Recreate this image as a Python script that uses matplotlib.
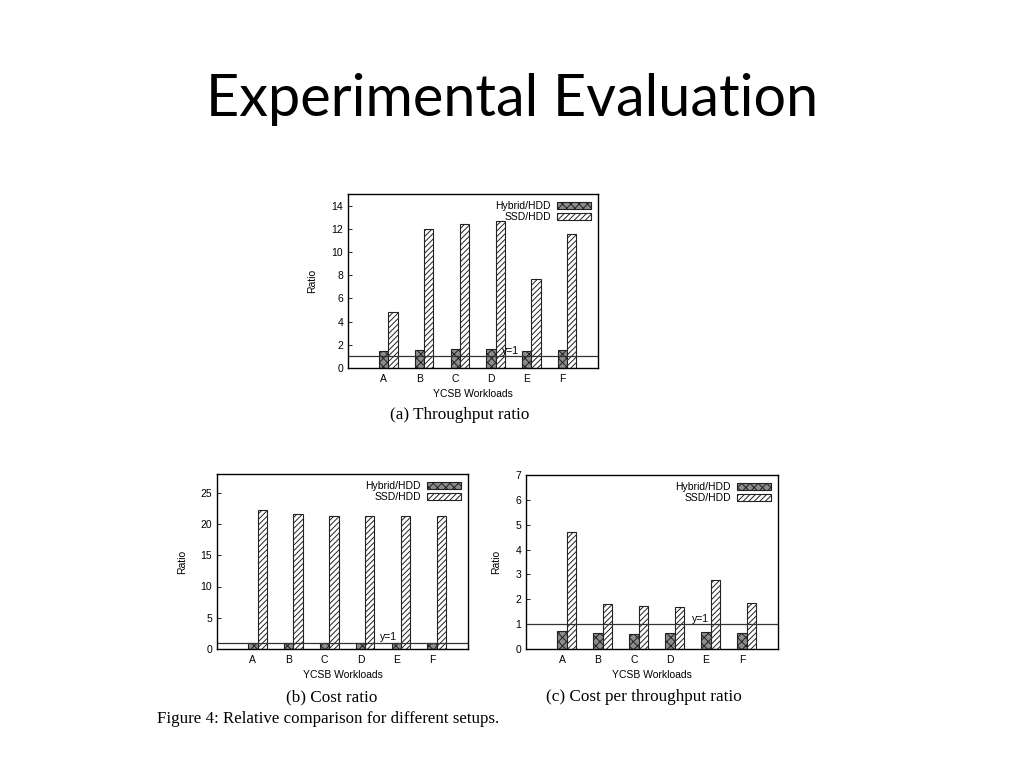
import matplotlib
matplotlib.use("Agg")
import matplotlib.pyplot as plt
import matplotlib.patches as mpatches
import numpy as np

workloads = ["A", "B", "C", "D", "E", "F"]

# (a) throughput ratio
thr_hybrid = [1.50, 1.55, 1.60, 1.60, 1.45, 1.55]
thr_ssd = [4.80, 12.0, 12.4, 12.7, 7.70, 11.55]

# (b) cost ratio
cost_hybrid = [0.97, 0.97, 0.97, 0.97, 0.97, 0.97]
cost_ssd = [22.3, 21.6, 21.35, 21.35, 21.35, 21.35]

# (c) cost per throughput ratio
cpt_hybrid = [0.71, 0.64, 0.62, 0.63, 0.70, 0.66]
cpt_ssd = [4.69, 1.81, 1.73, 1.69, 2.77, 1.87]

plt.rcParams["font.family"] = ["Liberation Sans", "DejaVu Sans"]
plt.rcParams["hatch.linewidth"] = 0.7

W, H = 1024, 768
fig = plt.figure(figsize=(W / 100, H / 100), dpi=100)


def px_axes(left, top, right, bottom):
    return fig.add_axes([left / W, 1 - bottom / H, (right - left) / W, (bottom - top) / H])


def draw_panel(ax, hybrid, ssd, ymax, yticks, label_xy):
    x = np.arange(1, len(workloads) + 1)
    w = 0.26
    ax.bar(x, hybrid, w, facecolor="#8c8c8c", edgecolor="#222222",
           hatch="xxxx", linewidth=0.8)
    ax.bar(x + w, ssd, w, facecolor="white", edgecolor="#222222",
           hatch="//////", linewidth=0.8)
    ax.axhline(1, color="#333333", linewidth=0.9)
    ax.text(label_xy[0], label_xy[1], "y=1", fontsize=7.5)
    ax.set_xlim(0, 7)
    ax.set_ylim(0, ymax)
    ax.set_xticks(x)
    ax.set_xticklabels(workloads)
    ax.set_yticks(yticks)
    ax.tick_params(axis="both", labelsize=7.5, direction="in", length=3, width=0.6)
    ax.tick_params(axis="x", length=0, pad=4)
    for s in ax.spines.values():
        s.set_linewidth(1.0)
    ax.set_xlabel("YCSB Workloads", fontsize=7.5, labelpad=4)
    ax.set_ylabel("Ratio", fontsize=7.5, labelpad=10)
    handles = [
        mpatches.Patch(facecolor="#8c8c8c", edgecolor="#222222", hatch="xxxx", linewidth=0.8),
        mpatches.Patch(facecolor="white", edgecolor="#222222", hatch="//////", linewidth=0.8),
    ]
    ax.legend(handles, ["Hybrid/HDD", "SSD/HDD"], loc="upper right", frameon=False,
              markerfirst=False, fontsize=7.5, handlelength=3.2, handleheight=0.6,
              labelspacing=0.1, borderaxespad=0.3, handletextpad=0.6)


ax_a = px_axes(348, 194, 598, 368)
draw_panel(ax_a, thr_hybrid, thr_ssd, 15, np.arange(0, 15, 2), (4.3, 1.2))

ax_b = px_axes(217, 474, 468, 649)
draw_panel(ax_b, cost_hybrid, cost_ssd, 28, np.arange(0, 26, 5), (4.55, 1.5))

ax_c = px_axes(526, 475, 778, 649)
draw_panel(ax_c, cpt_hybrid, cpt_ssd, 7, np.arange(0, 8, 1), (4.6, 1.1))


def ftext(x, y, s, **kw):
    fig.text(x / W, 1 - y / H, s, **kw)


ftext(512, 100, "Experimental Evaluation", fontsize=41.5, family=["Lato", "DejaVu Sans"],
      ha="center", va="center")
serif = ["Liberation Serif", "DejaVu Serif"]
ftext(460, 415, "(a) Throughput ratio", fontsize=12.3, family=serif, ha="center", va="center")
ftext(332, 697, "(b) Cost ratio", fontsize=12.3, family=serif, ha="center", va="center")
ftext(644, 697, "(c) Cost per throughput ratio", fontsize=12.3, family=serif, ha="center", va="center")
ftext(157, 719, "Figure 4: Relative comparison for different setups.", fontsize=12.2,
      family=serif, ha="left", va="center")

fig.savefig("out.png", dpi=100)
